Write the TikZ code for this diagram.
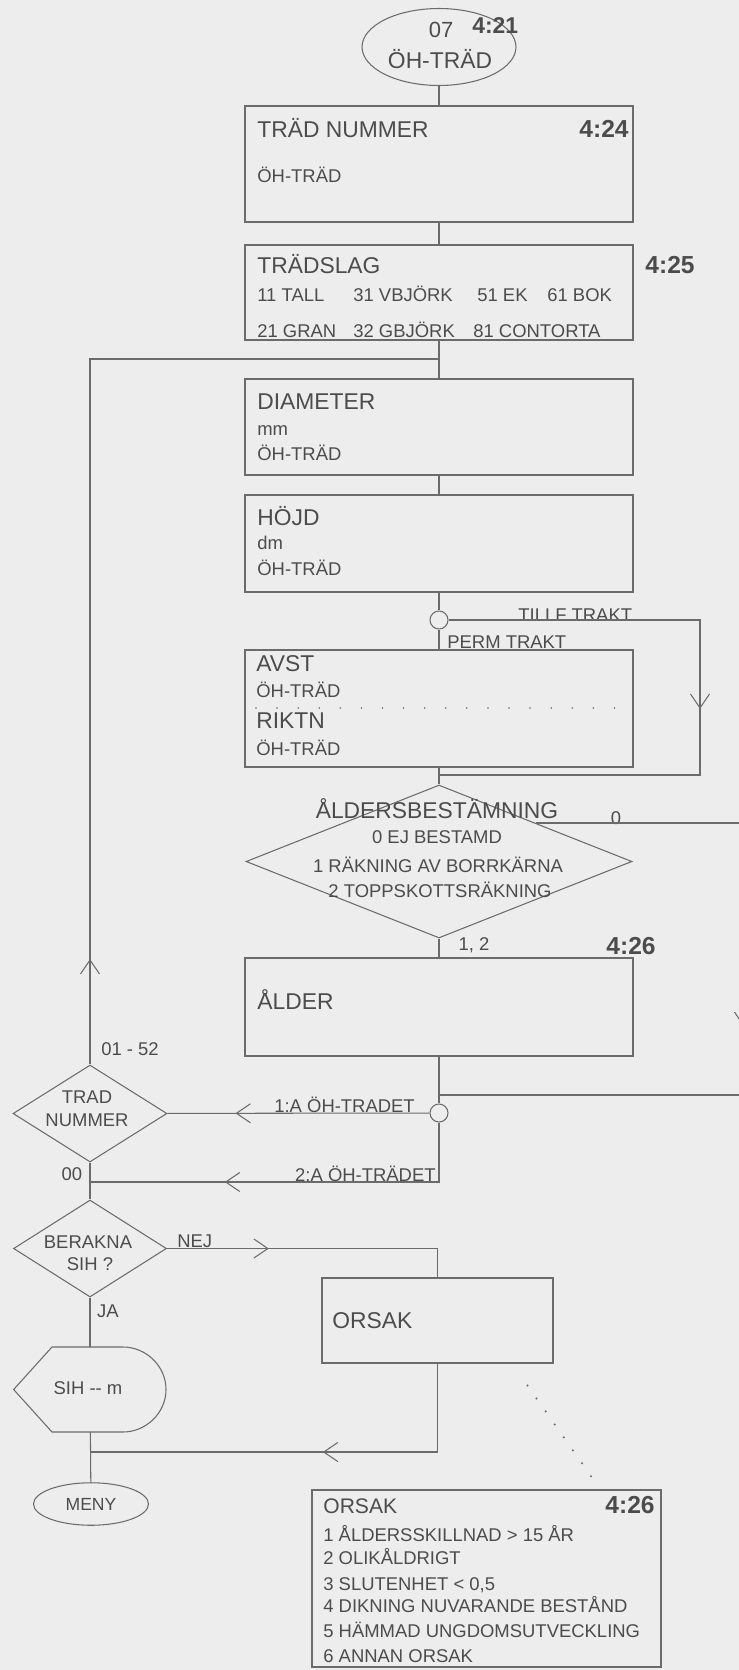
\documentclass[tikz,border=0pt]{standalone}
\usepackage{fontspec}
\setmainfont{Liberation Sans}
\usetikzlibrary{arrows.meta, positioning, shapes.geometric, fit, calc, decorations.markings}
\definecolor{ink}{gray}{0.30}
\definecolor{wire}{gray}{0.42}
\definecolor{paper}{gray}{0.93}

\begin{document}
\begin{tikzpicture}[
    x=0.02cm, y=-0.02cm,
    every node/.style={text=ink, inner sep=0pt},
    box/.style={draw=wire, line width=0.6pt},
    hd/.style={font=\fontsize{13}{15}\selectfont, anchor=base west},
    sub/.style={font=\fontsize{10.5}{12}\selectfont, anchor=base west},
    idn/.style={font=\bfseries\fontsize{14}{16}\selectfont, anchor=base east},
    lbl/.style={font=\fontsize{10.5}{12}\selectfont, anchor=base},
    dec/.style={diamond, draw=wire, line width=0.6pt},
    term/.style={ellipse, draw=wire, line width=0.6pt},
    knot/.style={circle, draw=wire, line width=0.6pt, minimum size=0.36cm},
    ln/.style={wire, line width=0.6pt},
    chev/.style={postaction={decorate}, decoration={markings,
        mark=at position #1 with {\arrow{Straight Barb[length=2.8mm, width=3.8mm]}}}},
    dotline/.style={wire, line width=1.3pt, line cap=round, dash pattern=on 0pt off 9pt}
]
\useasboundingbox (0,0) rectangle (739,1670);
\fill[paper] (0,0) rectangle (739,1670);

\node[term, minimum width=3.08cm, minimum height=1.54cm] (start) at (439,47) {};
\node[lbl, font=\fontsize{12.5}{14}\selectfont] (start-nr) at (441,37) {07};
\node[lbl, font=\fontsize{13}{15}\selectfont]   (start-t)  at (440,68) {ÖH-TRÄD};
\node[idn, anchor=base west, font=\bfseries\fontsize{13}{15}\selectfont] (start-id) at (472,33) {4:21};

\node[box, fit={(245,106) (633,222)}] (nr) {};
\node[hd]  (nr-a)  at (257,137) {TRÄD NUMMER};
\node[sub] (nr-b)  at (257,182) {ÖH-TRÄD};
\node[idn] (nr-id) at (629,137) {4:24};

\node[box, fit={(245,245) (633,340)}] (sl) {};
\node[hd]  (sl-a)  at (257,273) {TRÄDSLAG};
\node[idn] (sl-id) at (695,273) {4:25};
\node[sub] (sl-11) at (257,301) {11 TALL};
\node[sub] (sl-31) at (353,301) {31 VBJÖRK};
\node[sub] (sl-51) at (477,301) {51 EK};
\node[sub] (sl-61) at (547,301) {61 BOK};
\node[sub] (sl-21) at (257,337) {21 GRAN};
\node[sub] (sl-32) at (353,337) {32 GBJÖRK};
\node[sub] (sl-81) at (473,337) {81 CONTORTA};

\node[box, fit={(245,379) (633,475)}] (dm) {};
\node[hd]  (dm-a) at (257,409) {DIAMETER};
\node[sub] (dm-b) at (257,435) {mm};
\node[sub] (dm-c) at (257,460) {ÖH-TRÄD};

\node[box, fit={(245,495) (633,592)}] (hj) {};
\node[hd]  (hj-a) at (257,525) {HÖJD};
\node[sub] (hj-b) at (257,549) {dm};
\node[sub] (hj-c) at (257,575) {ÖH-TRÄD};

\node[knot] (c1) at (439,620) {};
\node[lbl, anchor=base west] (tillf) at (518,621) {TILLF TRAKT};
\node[lbl, anchor=base west] (perm)  at (447,648) {PERM TRAKT};

\node[box, fit={(245,650) (633,767)}] (av) {};
\node[hd]  (av-a) at (256,671) {AVST};
\node[sub] (av-b) at (256,697) {ÖH-TRÄD};
\node[hd]  (av-c) at (256,728) {RIKTN};
\node[sub] (av-d) at (256,755) {ÖH-TRÄD};
\draw[wire, line width=1pt, line cap=round, dash pattern=on 0pt off 12pt] (256,708) -- (618,708);

\node[dec, minimum width=7.72cm, minimum height=3.06cm] (dia) at (439,861.5) {};
\node[lbl, font=\fontsize{13}{15}\selectfont] (dia-a) at (437,818) {ÅLDERSBESTÄMNING};
\node[lbl] (dia-b) at (437,843) {0 EJ BESTAMD};
\node[lbl] (dia-c) at (438,872) {1 RÄKNING AV BORRKÄRNA};
\node[lbl] (dia-d) at (440,897) {2 TOPPSKOTTSRÄKNING};
\node[lbl] (zero) at (616,824) {0};
\node[lbl] (one-two) at (474,950) {1, 2};

\node[box, fit={(245,958) (633,1056)}] (al) {};
\node[hd]  (al-a)  at (257,1009) {ÅLDER};
\node[idn] (al-id) at (656,954) {4:26};

\node[knot] (c2) at (439,1113) {};
\node[dec, minimum width=3.08cm, minimum height=1.94cm] (tn) at (90,1113.5) {};
\node[lbl] (tn-a) at (87,1103) {TRAD};
\node[lbl] (tn-b) at (87,1126) {NUMMER};
\node[lbl] (range) at (130,1055) {01 - 52};
\node[lbl, anchor=base west] (first)  at (274,1112) {1:A ÖH-TRADET};
\node[lbl, anchor=base east] (second) at (436,1181) {2:A ÖH-TRÄDET};
\node[lbl] (dbl-zero) at (72,1180) {00};

\node[dec, minimum width=3.06cm, minimum height=1.94cm] (bk) at (90,1248.5) {};
\node[lbl] (bk-a) at (88,1248) {BERAKNA};
\node[lbl] (bk-b) at (90,1270) {SIH ?};
\node[lbl, anchor=base west] (nej) at (177,1247) {NEJ};
\node[lbl] (ja) at (108,1317) {JA};

\node[box, fit={(322,1278) (553,1363)}] (os) {};
\node[hd] (os-a) at (332,1328) {ORSAK};

\node[fit={(14,1347) (166,1432)}] (sih) {};
\draw[ln] (sih.west) -- (52,1347) -- (123,1347)
    .. controls (146,1347) and (166,1366) .. (166,1389.5)
    .. controls (166,1413) and (146,1432) .. (123,1432) -- (52,1432) -- cycle;
\node[lbl] (sih-t) at (88,1394) {SIH -{}- m};

\node[term, minimum width=2.3cm, minimum height=0.85cm] (meny) at (91,1504) {};
\node[lbl, font=\fontsize{10}{12}\selectfont] (meny-t) at (91,1510) {MENY};

\node[box, line width=1.2pt, fit={(312,1490) (661,1667)}] (ol) {};
\node[sub, font=\fontsize{12}{14}\selectfont] (ol-a) at (323,1513) {ORSAK};
\node[idn] (ol-id) at (655,1513) {4:26};
\node[sub] (ol-1) at (323,1541) {1 ÅLDERSSKILLNAD > 15 ÅR};
\node[sub] (ol-2) at (323,1564) {2 OLIKÅLDRIGT};
\node[sub] (ol-3) at (323,1590) {3 SLUTENHET < 0,5};
\node[sub] (ol-4) at (323,1612) {4 DIKNING NUVARANDE BESTÅND};
\node[sub] (ol-5) at (323,1637) {5 HÄMMAD UNGDOMSUTVECKLING};
\node[sub] (ol-6) at (323,1662) {6 ANNAN ORSAK};

\coordinate (jn1) at (439,359);
\coordinate (jn2) at (439,775);
\coordinate (jn3) at (439,1095);
\coordinate (jn4) at (90,1182);
\coordinate (jn5) at (90,1452);

\draw[ln] (start) -- (nr);
\draw[ln] (nr) -- (sl);
\draw[ln] (sl) -- (dm);
\draw[ln] (dm) -- (hj);
\draw[ln] (hj) -- (c1);
\draw[ln] (c1) -- (av);
\draw[ln] (av) -- (dia);
\draw[ln] (dia) -- (al);
\draw[ln] (al) -- (c2);
\draw[ln, chev=0.51]  (c1.east) -- (700,620) |- (jn2);
\draw[ln, chev=0.525] ($(dia.north)!0.5!(dia.east)$) -| (744,1095) -- (jn3);
\draw[ln, chev=0.1]   (tn.north) |- (jn1);
\draw[ln, chev=0.74]  (c2) -- (tn);
\draw[ln, chev=0.67]  (c2) |- (jn4);
\draw[ln] (tn) -- (bk);
\draw[ln, chev=0.34]  (bk.east) -| (os.north);
\draw[ln] (bk) -- (sih);
\draw[ln] (sih) -- (meny);
\draw[ln, chev=0.466] (os) |- (jn5);
\draw[dotline] ([shift={(-26,22)}]os.south east) -- ([shift={(105,-12)}]ol.north);
\end{tikzpicture}
\end{document}
